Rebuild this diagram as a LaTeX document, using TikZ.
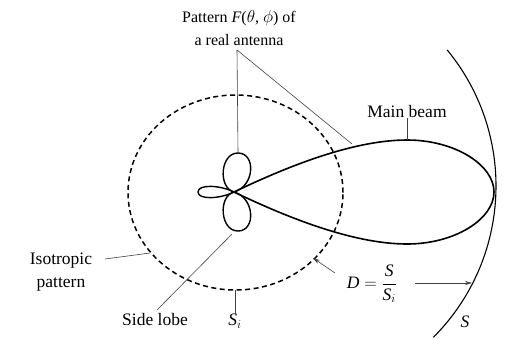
\documentclass[tikz,border=0pt]{standalone}
\usepackage{fontspec}
\setmainfont{Liberation Serif}
\usepackage{amsmath}
\usetikzlibrary{arrows.meta}
\begin{document}
\begin{tikzpicture}[x=1pt,y=-1pt,
  lbl/.style={font=\fontsize{17.5}{23}\selectfont, inner sep=0pt, align=center},
  toplbl/.style={font=\fontsize{16}{23}\selectfont, inner sep=0pt, align=center},
  beam/.style={line width=1.6pt},
  lobe/.style={line width=1.4pt},
  iso/.style={line width=1.5pt, dash pattern=on 5pt off 3.5pt},
  sarc/.style={line width=1.1pt},
  lead/.style={line width=0.6pt, black!75},
  arr/.style={line width=0.6pt, black!75, -{Stealth[length=7pt,width=4pt]}}]
\useasboundingbox (0,0) rectangle (510,338);
\coordinate (O) at (234,192);
% isotropic pattern
\draw[iso] (235.5,192.5) ellipse [x radius=107.5pt, y radius=97.5pt];
% sphere S
\draw[sarc] (282,186) ++(39.5:214pt) arc[start angle=39.5, end angle=-45, radius=214pt];
% main beam
\draw[beam] (O) .. controls (280,170) and (350,140) .. (407,140) coordinate (T)
  .. controls (455,140) and (494,165) .. (494,192)
  .. controls (494,219) and (455,244) .. (407,244)
  .. controls (350,244) and (280,214) .. (O);
% side lobes
\draw[lobe] (O) .. controls (218,188) and (220,153) .. (238,153) coordinate (UT)
  .. controls (256,153) and (255,186) .. (O);
\draw[lobe] (O) .. controls (218,196) and (220,231) .. (238,231)
  .. controls (256,231) and (255,198) .. (O);
\draw[lobe] (O) .. controls (220,185) and (198,184) .. (198,192)
  .. controls (198,200) and (220,199) .. (O);
% labels
\node[toplbl] (top) at (239,28) {Pattern \textit{F}($\theta$, $\phi$) of\\a real antenna};
\node[lbl] (mb) at (407,112) {Main beam};
\node[lbl] (isot) at (61,272) {Isotropic\\pattern};
\node[lbl] (sl) at (155,320) {Side lobe};
\node[lbl] (si) at (235,321) {$\textit{S}_{i}$};
\node[lbl] (dn) at (372,284) {$\textit{D} = \dfrac{\textit{S}}{\textit{S}_{i}}$};
\node[lbl] (sn) at (465,322) {\textit{S}};
% leader coordinates
\coordinate (tp) at (237,50);
\coordinate (bp) at (352,144);
\coordinate (isA) at (105,259);
\coordinate (isB) at (150,253);
\coordinate (slA) at (157,310);
\coordinate (slB) at (232,234);
\coordinate (siB) at (235,290);
\coordinate (dA) at (335,273);
\coordinate (dB) at (313,258);
\coordinate (dC) at (415,283);
\coordinate (dD) at (472,283);
% leaders
\draw[lead] (tp) -- (UT);
\draw[lead] (tp) -- (bp);
\draw[lead] (mb.south) -- (T);
\draw[lead] (isA) -- (isB);
\draw[lead] (slA) -- (slB);
\draw[lead] (si.north) -- (siB);
\draw[arr] (dA) -- (dB);
\draw[arr] (dC) -- (dD);
\end{tikzpicture}
\end{document}
